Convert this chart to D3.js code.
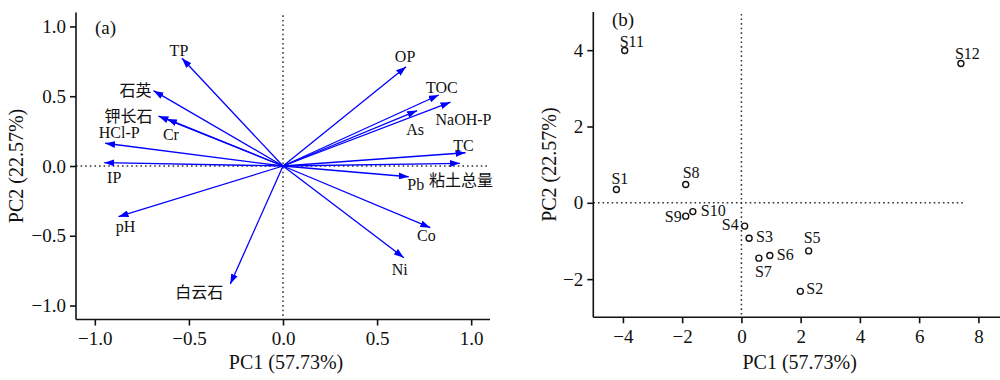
<!DOCTYPE html>
<html>
<head>
<meta charset="utf-8">
<script src="https://cdn.jsdelivr.net/npm/d3@7"></script>
<style>
  body { margin: 0; background: #fff; }
  svg text { font-family: "Times New Roman", Times, "Liberation Serif", "DejaVu Serif", serif, "Noto Sans CJK SC"; fill: #111; }
</style>
</head>
<body>
<div id="app"></div>
<script>
// loadings (panel a)
const varNames = ["TP", "石英", "钾长石", "Cr", "HCl-P", "IP", "pH", "白云石", "Ni", "Co", "Pb", "粘土总量", "TC", "NaOH-P", "As", "TOC", "OP"];
const varPC1 = [-0.537, -0.688, -0.662, -0.617, -0.945, -0.95, -0.874, -0.28, 0.642, 0.783, 0.668, 0.94, 0.97, 0.89, 0.713, 0.828, 0.654];
const varPC2 = [0.772, 0.54, 0.358, 0.337, 0.163, 0.024, -0.363, -0.846, -0.657, -0.442, -0.077, 0.019, 0.095, 0.457, 0.397, 0.509, 0.712];

// scores (panel b)
const sampleNames = ["S1", "S2", "S3", "S4", "S5", "S6", "S7", "S8", "S9", "S10", "S11", "S12"];
const samplePC1 = [-4.22, 1.99, 0.26, 0.11, 2.27, 0.96, 0.59, -1.88, -1.88, -1.64, -3.94, 7.41];
const samplePC2 = [0.35, -2.32, -0.93, -0.61, -1.26, -1.38, -1.45, 0.48, -0.35, -0.23, 3.99, 3.65];

const ticksA = [-1.0, -0.5, 0.0, 0.5, 1.0];
const ticksBx = [-4, -2, 0, 2, 4, 6, 8];
const ticksBy = [-2, 0, 2, 4];

// label placement, pixel offset from the arrow tip / point
const varLabelPos = {
  "TP": [-3, -2, "middle"], "石英": [-2, 5, "end"], "钾长石": [-6, 6, "end"],
  "Cr": [4, 21, "middle"], "HCl-P": [14, -5, "middle"], "IP": [10, 20, "middle"],
  "pH": [7, 15, "middle"], "白云石": [-31, 14, "middle"], "Ni": [-4, 17, "middle"],
  "Co": [-4, 13, "middle"], "Pb": [7, 13, "middle"], "粘土总量": [1, 23, "middle"],
  "TC": [-2, -2, "middle"], "NaOH-P": [13, 23, "middle"], "As": [-2, 24, "middle"],
  "TOC": [3, -2, "middle"], "OP": [-1, -5, "middle"]
};
const sampleLabelPos = {
  "S1": [-5, -5, "start"], "S2": [6, 3, "start"], "S3": [7, 4, "start"],
  "S4": [-6, 4, "end"], "S5": [-5, -8, "start"], "S6": [7, 5, "start"],
  "S7": [-4, 19, "start"], "S8": [-3, -6, "start"], "S9": [-4, 6, "end"],
  "S10": [8, 4, "start"], "S11": [-5, -4, "start"], "S12": [-6, -5, "start"]
};

const w = 1000, h = 380;
const svg = d3.select("#app").append("svg").attr("width", w).attr("height", h);

svg.append("defs").append("marker")
  .attr("id", "head")
  .attr("markerUnits", "userSpaceOnUse")
  .attr("viewBox", "0 0 10 7")
  .attr("markerWidth", 10).attr("markerHeight", 7)
  .attr("refX", 10).attr("refY", 3.5)
  .attr("orient", "auto")
  .append("path").attr("d", "M0,0 L10,3.5 L0,7 Z").attr("fill", "#0000ff");

function drawAxes(x, y, xTicks, yTicks, fmt, xTitle, yTitleX) {
  const xAxis = d3.axisBottom(x).tickValues(xTicks).tickSize(6).tickPadding(6).tickFormat(fmt);
  const yAxis = d3.axisLeft(y).tickValues(yTicks).tickSize(6).tickPadding(4).tickFormat(fmt);
  const gx = svg.append("g").attr("transform", `translate(0,${y.range()[0]})`).call(xAxis);
  const gy = svg.append("g").attr("transform", `translate(${x.range()[0]},0)`).call(yAxis);
  [gx, gy].forEach((g) => {
    g.attr("font-family", null);
    g.select(".domain").attr("stroke", "#111").attr("stroke-width", 1.6);
    g.selectAll(".tick line").attr("stroke", "#111").attr("stroke-width", 1.6);
    g.selectAll("text").style("font-size", "19px").attr("fill", "#111");
  });
  // drop the outer end ticks of the domain path
  gx.select(".domain").attr("d", `M${x.range()[0]},0H${x.range()[1]}`);
  gy.select(".domain").attr("d", `M0,${y.range()[0]}V${y.range()[1]}`);

  svg.append("text")
    .attr("x", (x.range()[0] + x.range()[1]) / 2 + 3)
    .attr("y", 369)
    .attr("text-anchor", "middle")
    .style("font-size", "20px")
    .text(xTitle);
  svg.append("text")
    .attr("transform", `translate(${yTitleX},${(y.range()[0] + y.range()[1]) / 2}) rotate(-90)`)
    .attr("text-anchor", "middle")
    .style("font-size", "20px")
    .text("PC2 (22.57%)");
}

function dotted(x1, y1, x2, y2) {
  svg.append("line")
    .attr("x1", x1).attr("y1", y1).attr("x2", x2).attr("y2", y2)
    .attr("stroke", "#333").attr("stroke-width", 1.5)
    .attr("stroke-dasharray", "1.6,3");
}

// ---- panel a
const xA = d3.scaleLinear().domain([-1.1, 1.1]).range([76, 490]);
const yA = d3.scaleLinear().domain([-1.1, 1.1]).range([319.5, 12.5]);

dotted(xA(0), yA(1.08), xA(0), yA(-1.1));
dotted(xA(-1.1), yA(0), xA(1.095), yA(0));
drawAxes(xA, yA, ticksA, ticksA, d3.format(".1f"), "PC1 (57.73%)", 23);

const loadings = varNames.map((n, i) => ({ name: n, x: varPC1[i], y: varPC2[i] }));

svg.append("g").selectAll("line").data(loadings).join("line")
  .attr("x1", xA(0)).attr("y1", yA(0))
  .attr("x2", (d) => xA(d.x)).attr("y2", (d) => yA(d.y))
  .attr("stroke", "#0000ff").attr("stroke-width", 1.3)
  .attr("marker-end", "url(#head)");

svg.append("g").selectAll("text").data(loadings).join("text")
  .attr("x", (d) => xA(d.x) + varLabelPos[d.name][0])
  .attr("y", (d) => yA(d.y) + varLabelPos[d.name][1])
  .attr("text-anchor", (d) => varLabelPos[d.name][2])
  .style("font-size", "16px")
  .text((d) => d.name);

svg.append("text").attr("x", 95).attr("y", 34).style("font-size", "19px").text("(a)");

// ---- panel b
const xB = d3.scaleLinear().domain([-5, 8.73]).range([593.3, 1000]);
const yB = d3.scaleLinear().domain([-3, 5]).range([317.3, 12]);

dotted(xB(0), yB(4.95), xB(0), yB(-3));
dotted(xB(-5), yB(0), xB(7.52), yB(0));
drawAxes(xB, yB, ticksBx, ticksBy, d3.format("d"), "PC1 (57.73%)", 556);

const scores = sampleNames.map((n, i) => ({ name: n, x: samplePC1[i], y: samplePC2[i] }));

svg.append("g").selectAll("circle").data(scores).join("circle")
  .attr("cx", (d) => xB(d.x)).attr("cy", (d) => yB(d.y))
  .attr("r", 3)
  .attr("fill", "none").attr("stroke", "#111").attr("stroke-width", 1.4);

svg.append("g").selectAll("text").data(scores).join("text")
  .attr("x", (d) => xB(d.x) + sampleLabelPos[d.name][0])
  .attr("y", (d) => yB(d.y) + sampleLabelPos[d.name][1])
  .attr("text-anchor", (d) => sampleLabelPos[d.name][2])
  .style("font-size", "16px")
  .text((d) => d.name);

svg.append("text").attr("x", 612).attr("y", 26).style("font-size", "19px").text("(b)");
</script>
</body>
</html>
